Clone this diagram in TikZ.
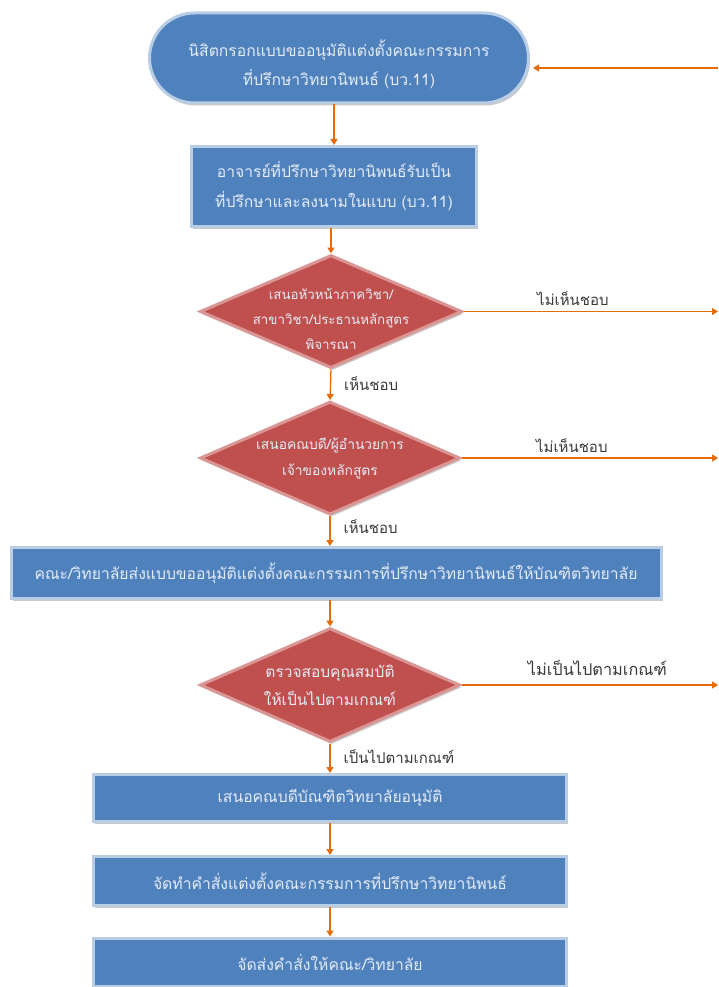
\documentclass[tikz,border=0pt]{standalone}
\usepackage{fontspec}
\setmainfont{Loma}[Script=Thai]
\usetikzlibrary{shapes.geometric,shapes.misc,shadows,arrows.meta}
\definecolor{boxblue}{HTML}{4F81BD}
\definecolor{halo}{HTML}{B9CDE5}
\definecolor{boxred}{HTML}{C0504D}
\definecolor{halored}{HTML}{D99694}
\definecolor{boxtext}{HTML}{E4ECF7}
\definecolor{flow}{HTML}{E46C0A}
\definecolor{labtext}{HTML}{3A3A3A}
\tikzset{
  shad/.style={drop shadow={shadow xshift=1.5pt,shadow yshift=-2.5pt,fill=black!35,opacity=0.6}},
  termbox/.style={rounded rectangle,fill=boxblue,draw=halo,line width=3pt,shad,inner sep=0pt},
  termtext/.style={text=boxtext,align=center,inner sep=0pt,font=\fontsize{15.7}{29}\selectfont},
  procbox/.style={rectangle,fill=boxblue,draw=halo,line width=3pt,shad,
    text=boxtext,align=center,inner sep=0pt,font=\fontsize{15.7}{30}\selectfont},
  decbox/.style={diamond,fill=boxred,draw=halored,line width=3pt,shad,inner sep=0pt},
  dectext/.style={text=boxtext,align=center,inner sep=0pt,font=\fontsize{13.3}{25}\selectfont},
  arr/.style={draw=flow,line width=1.3pt,-{Triangle[width=7pt,length=6pt]}},
  lab/.style={text=labtext,font=\fontsize{15}{17}\selectfont,inner sep=1pt}
}
\begin{document}
\begin{tikzpicture}[x=1pt,y=-1pt]
\useasboundingbox[fill=white] (0,0) rectangle (718,987);

\node[termbox,minimum width=379pt,minimum height=90pt,
  label={[termtext,yshift=-6pt]center:{นิสิตกรอกแบบขออนุมัติแต่งตั้งคณะกรรมการ\\ที่ปรึกษาวิทยานิพนธ์ (บว.11)}}] (t1) at (339,58) {};
\node[procbox,minimum width=285pt,minimum height=80pt] (b2) at (334,186.5)
  {อาจารย์ที่ปรึกษาวิทยานิพนธ์รับเป็น\\ที่ปรึกษาและลงนามในแบบ (บว.11)};
\node[decbox,minimum width=262pt,minimum height=113pt,
  label={[dectext,yshift=-7pt]center:{เสนอหัวหน้าภาควิชา/\\สาขาวิชา/ประธานหลักสูตร\\พิจารณา}}] (d1) at (331,311.5) {};
\node[decbox,minimum width=260pt,minimum height=113pt,
  label={[dectext,font=\fontsize{13.8}{26}\selectfont]center:{เสนอคณบดี/ผู้อำนวยการ\\เจ้าของหลักสูตร}}] (d2) at (330,458) {};
\node[procbox,minimum width=650pt,minimum height=51pt] (b3) at (336,573)
  {คณะ/วิทยาลัยส่งแบบขออนุมัติแต่งตั้งคณะกรรมการที่ปรึกษาวิทยานิพนธ์ให้บัณฑิตวิทยาลัย};
\node[decbox,minimum width=260pt,minimum height=114pt,
  label={[dectext,font=\fontsize{15.5}{28}\selectfont]center:{ตรวจสอบคุณสมบัติ\\ให้เป็นไปตามเกณฑ์}}] (d3) at (330,685) {};
\node[procbox,minimum width=473pt,minimum height=47pt] (b4) at (330,798)
  {เสนอคณบดีบัณฑิตวิทยาลัยอนุมัติ};
\node[procbox,minimum width=473pt,minimum height=49pt] (b5) at (330,881)
  {จัดทำคำสั่งแต่งตั้งคณะกรรมการที่ปรึกษาวิทยานิพนธ์};
\node[procbox,minimum width=473pt,minimum height=48pt] (b6) at (330,962)
  {จัดส่งคำสั่งให้คณะ/วิทยาลัย};

\coordinate (r0) at (718,68);
\coordinate (e1) at (718,311.5);
\coordinate (e2) at (718,458);
\coordinate (e3) at (718,685);

\draw[arr] (b2.north |- t1.south) -- (b2.north);
\draw[arr] (d1.north |- b2.south) -- (d1.north);
\draw[arr] (d1.south) -- node[lab,anchor=west,xshift=12pt,pos=0.45] {เห็นชอบ} (d2.north);
\draw[arr] (d2.south) -- node[lab,anchor=west,xshift=12pt,pos=0.36] {เห็นชอบ} (d2.south |- b3.north);
\draw[arr] (d3.north |- b3.south) -- (d3.north);
\draw[arr] (d3.south) -- node[lab,anchor=west,xshift=12pt,pos=0.45] {เป็นไปตามเกณฑ์} (d3.south |- b4.north);
\draw[arr] (b4.south) -- (b5.north);
\draw[arr] (b5.south) -- (b6.north);

\draw[arr] (d1.east) -- node[lab,anchor=south,pos=0.43,yshift=4pt] {ไม่เห็นชอบ} (e1);
\draw[arr] (d2.east) -- node[lab,anchor=south,pos=0.43,yshift=4pt] {ไม่เห็นชอบ} (e2);
\draw[arr] (d3.east) -- node[lab,anchor=south,pos=0.53,yshift=8pt,font=\fontsize{16.3}{18}\selectfont] {ไม่เป็นไปตามเกณฑ์} (e3);
\draw[arr,shorten >=3pt] (r0) -- (r0 -| t1.east);
\end{tikzpicture}
\end{document}
